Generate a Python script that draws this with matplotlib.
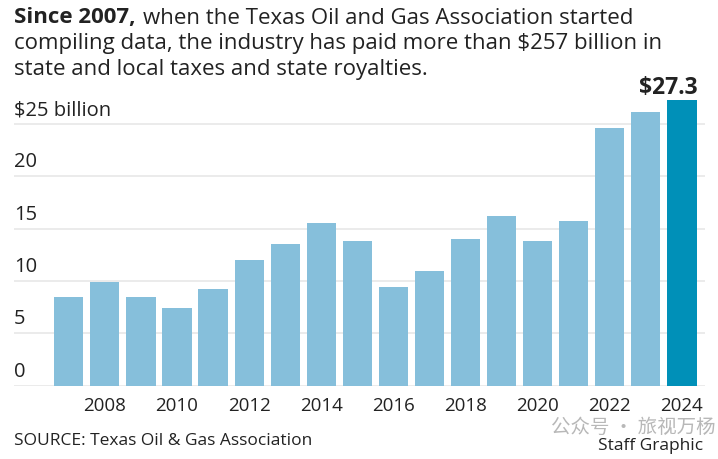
import numpy as np
import matplotlib.pyplot as plt
import matplotlib.transforms as mtransforms

# Data: Texas oil and gas taxes and royalties, $ billion
years = list(range(2007, 2025))
values = [8.5, 9.9, 8.5, 7.4, 9.2, 12.0, 13.5, 15.6, 13.8,
          9.4, 11.0, 14.0, 16.2, 13.8, 15.7, 24.6, 26.2, 27.3]
y_ticks = [0, 5, 10, 15, 20, 25]
y_tick_labels = ['0', '5', '10', '15', '20', '$25 billion']
x_ticks = list(range(2008, 2025, 2))

light_blue = '#86bfdb'
dark_blue = '#0090b8'
text_color = '#222222'

plt.rcParams['font.family'] = ['Open Sans', 'Noto Sans CJK SC', 'DejaVu Sans']

W, H = 718, 459
fig = plt.figure(figsize=(W / 100, H / 100), dpi=100)

# axes placed in pixel units
left_px, right_px = 14, 705
zero_px, top_px = 385.7, 92.8
ax = fig.add_axes([left_px / W, (H - zero_px) / H,
                   (right_px - left_px) / W, (zero_px - top_px) / H])

bar_w = 0.81
colors = [light_blue] * (len(years) - 1) + [dark_blue]
ax.bar(years, values, width=bar_w, color=colors, zorder=2)

ax.set_xlim(2005.48, 2024.64)
ax.set_ylim(0, 28)

for v in y_ticks:
    ax.axhline(v, color='#e8e8e8', linewidth=1.2, zorder=1)

# y labels sit just above their gridline
offset = mtransforms.ScaledTranslation(0, 4 / 100, fig.dpi_scale_trans)
trans = mtransforms.blended_transform_factory(ax.transAxes, ax.transData) + offset
for v, lab in zip(y_ticks, y_tick_labels):
    ax.text(0, v, lab, transform=trans, ha='left', va='bottom',
            fontsize=14.5, color=text_color)

ax.set_yticks([])
ax.set_xticks(x_ticks)
ax.set_xticklabels([str(x) for x in x_ticks], fontsize=13.5, color=text_color)
ax.tick_params(axis='x', length=0, pad=8)
for s in ax.spines.values():
    s.set_visible(False)

# value label on last bar, flush with its right edge
ax.annotate(f'${values[-1]}', (years[-1] + bar_w / 2, values[-1]), xytext=(1, 0),
            textcoords='offset points', ha='right', va='bottom',
            fontsize=16.5, fontweight='bold', color=text_color)

# title: bold lead-in followed by regular text on the same line
title_size = 16
lead = fig.text(14 / W, 1 - 18 / H, 'Since 2007,', fontsize=title_size,
                fontweight='bold', color=text_color, ha='left', va='center')
fig.canvas.draw()
bb = lead.get_window_extent()
fig.text((bb.x1 + 7) / W, 1 - 18 / H,
         'when the Texas Oil and Gas Association started',
         fontsize=title_size, color=text_color, ha='left', va='center')
fig.text(14 / W, 1 - 44 / H,
         'compiling data, the industry has paid more than $257 billion in',
         fontsize=title_size, color=text_color, ha='left', va='center')
fig.text(14 / W, 1 - 70 / H, 'state and local taxes and state royalties.',
         fontsize=title_size, color=text_color, ha='left', va='center')

# footer
fig.text(14 / W, 1 - 441 / H, 'SOURCE: Texas Oil & Gas Association',
         fontsize=12.5, color=text_color, ha='left', va='center')
fig.text(703 / W, 1 - 446 / H, 'Staff Graphic',
         fontsize=12.5, color=text_color, ha='right', va='center')
fig.text(716 / W, 1 - 427 / H, '公众号 · 旅视万杨',
         fontsize=14, color='#b8b8b8', ha='right', va='center',
         family=['Noto Sans CJK SC', 'DejaVu Sans'])

plt.savefig('out.png', dpi=100)
